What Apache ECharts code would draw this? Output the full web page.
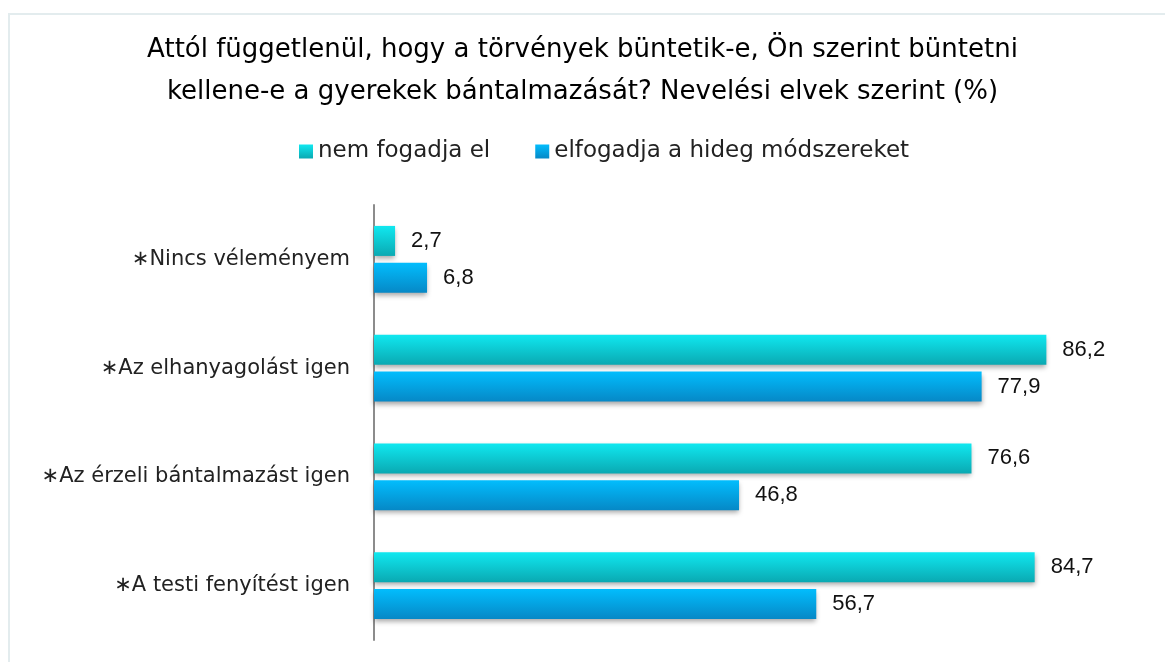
<!DOCTYPE html>
<html>
<head>
<meta charset="utf-8">
<script src="https://cdn.jsdelivr.net/npm/echarts@6/dist/echarts.min.js"></script>
<style>
  html, body { margin: 0; padding: 0; background: #fff; }
  #frame { position: absolute; left: 8px; top: 13px; width: 1170px; height: 660px; border: 2px solid #e3ecee; box-sizing: border-box; }
  #chart { position: absolute; left: 0; top: 0; width: 1165px; height: 662px; }
</style>
</head>
<body>
<div id="frame"></div>
<div id="chart"></div>
<script>
  // kategóriák (felülről lefelé)
  let categories = ['\u2217Nincs véleményem', '\u2217Az elhanyagolást igen', '\u2217Az érzeli bántalmazást igen', '\u2217A testi fenyítést igen'];
  let seriesNames = ['nem fogadja el', 'elfogadja a hideg módszereket'];
  let nemFogadjaEl = [2.7, 86.2, 76.6, 84.7];
  let elfogadjaHideg = [6.8, 77.9, 46.8, 56.7];

  let font = '"DejaVu Sans", sans-serif';
  let numFont = '"Liberation Sans", Arial, sans-serif';

  let myChart = echarts.init(document.getElementById('chart'));
  let option = {
    backgroundColor: 'transparent',
    title: {
      text: 'Attól függetlenül, hogy a törvények büntetik-e, Ön szerint büntetni\nkellene-e a gyerekek bántalmazását? Nevelési elvek szerint (%)',
      left: 'center',
      top: 24,
      textStyle: { fontFamily: font, fontSize: 26, fontWeight: 'normal', color: '#000', lineHeight: 42 }
    },
    legend: {
      data: seriesNames,
      top: 135,
      left: 294,
      itemWidth: 14,
      itemHeight: 14,
      itemGap: 45,
      icon: 'rect',
      textStyle: { fontFamily: font, fontSize: 23, color: '#222' }
    },
    grid: { left: 374, right: 11, top: 205, bottom: 22, containLabel: false },
    xAxis: {
      type: 'value',
      min: 0,
      max: 100,
      show: false
    },
    yAxis: {
      type: 'category',
      data: categories,
      inverse: true,
      axisLine: { show: true, lineStyle: { color: '#8c8c8c', width: 2 } },
      axisTick: { show: false },
      axisLabel: { fontFamily: font, fontSize: 21, color: '#222', margin: 24 }
    },
    series: [
      {
        name: seriesNames[0],
        type: 'bar',
        data: nemFogadjaEl,
        barWidth: 30,
        barGap: '23%',
        itemStyle: {
          color: new echarts.graphic.LinearGradient(0, 0, 0, 1, [
            { offset: 0, color: '#10e8f0' },
            { offset: 1, color: '#0aa9b2' }
          ]),
          shadowColor: 'rgba(0,0,0,0.35)',
          shadowBlur: 5,
          shadowOffsetY: 3
        },
        label: {
          show: true,
          position: 'right',
          distance: 16,
          fontFamily: numFont,
          fontSize: 22,
          color: '#111',
          formatter: function (p) { return String(p.value).replace('.', ','); }
        }
      },
      {
        name: seriesNames[1],
        type: 'bar',
        data: elfogadjaHideg,
        barWidth: 30,
        itemStyle: {
          color: new echarts.graphic.LinearGradient(0, 0, 0, 1, [
            { offset: 0, color: '#02bdfd' },
            { offset: 1, color: '#0688c6' }
          ]),
          shadowColor: 'rgba(0,0,0,0.35)',
          shadowBlur: 5,
          shadowOffsetY: 3
        },
        label: {
          show: true,
          position: 'right',
          distance: 16,
          fontFamily: numFont,
          fontSize: 22,
          color: '#111',
          formatter: function (p) { return String(p.value).replace('.', ','); }
        }
      }
    ]
  };
  myChart.setOption(option);
</script>
</body>
</html>
